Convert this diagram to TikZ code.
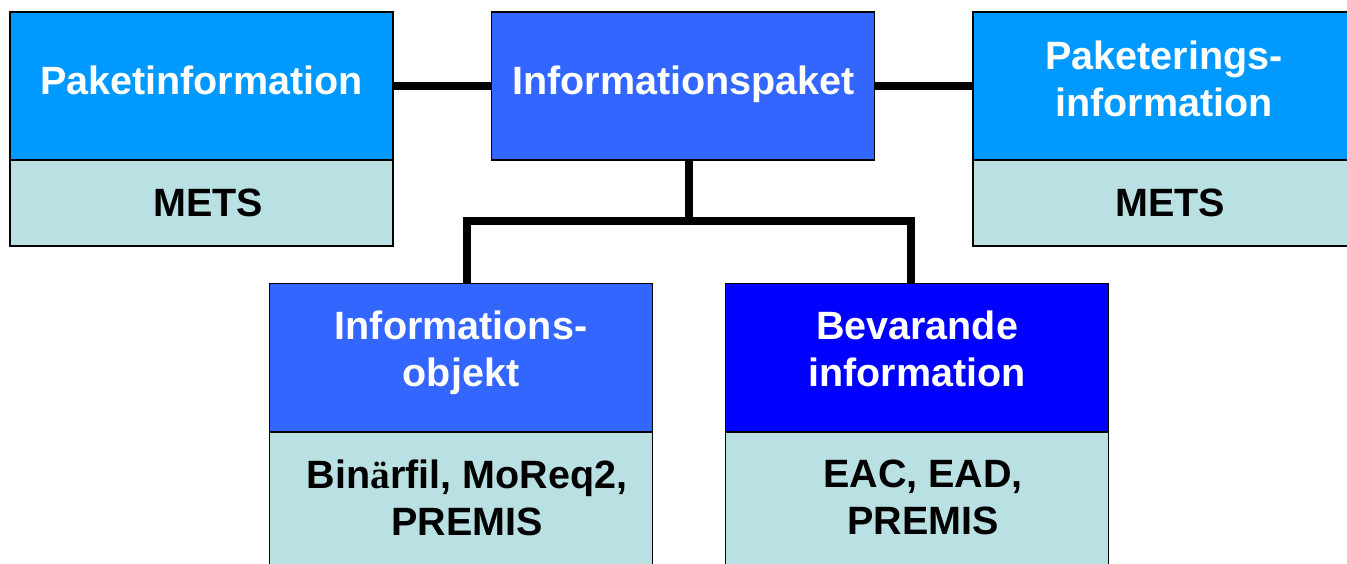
\documentclass[tikz,border=0pt]{standalone}
\usepackage{fontspec}
\setmainfont{Liberation Sans}
\newfontfamily\umlautfont{Liberation Serif}
\definecolor{skyblue}{RGB}{0,153,255}
\definecolor{midblue}{RGB}{51,102,255}
\definecolor{deepblue}{RGB}{0,0,255}
\definecolor{paleteal}{RGB}{185,224,227}
\begin{document}
\begin{tikzpicture}[x=1pt,y=-1pt,
  box/.style={draw=black, line width=1.5pt, minimum width=383pt, inner sep=0pt, outer sep=0pt},
  head/.style={box, minimum height=148pt},
  foot/.style={box, fill=paleteal},
  txt/.style={inner sep=0pt, align=center, text depth=0pt,
    font=\fontsize{39.5}{47}\selectfont\bfseries},
  wtxt/.style={txt, text=white},
  btxt/.style={txt, text=black},
  conn/.style={line width=7.5pt}]
\useasboundingbox (0,0) rectangle (1347,563);
\clip (0,0) rectangle (1347,563);

% top row
\node[head, fill=skyblue] (pi) at (201.5,86) {};
\node[foot, minimum height=86pt] (pif) at (201.5,203) {};
\node[head, fill=midblue] (ip) at (683,86) {};
\node[head, fill=skyblue] (pk) at (1164.5,86) {};
\node[foot, minimum height=86pt] (pkf) at (1164.5,203) {};

% bottom row
\node[head, fill=midblue] (io) at (461,357.5) {};
\node[foot, minimum height=140pt] (iof) at (461,502) {};
\node[head, fill=deepblue] (bi) at (917,357.5) {};
\node[foot, minimum height=140pt] (bif) at (917,502) {};

% labels
\node[wtxt] (piT) at (201.5,80) {Paketinformation};
\node[btxt] (pifT) at (208,203) {METS};
\node[wtxt] (ipT) at (683.5,80) {Informationspaket};
\node[wtxt] (pkT) at (1164,79) {Paketerings-\\information};
\node[btxt] (pkfT) at (1170,203) {METS};
\node[wtxt] (ioT) at (461,349) {Informations-\\objekt};
\node[btxt] (iofT) at (467,497.5) {Bin{\umlautfont ä}rfil, MoReq2,\\PREMIS};
\node[wtxt] (biT) at (917,349) {Bevarande\\information};
\node[btxt] (bifT) at (923,497.5) {EAC, EAD,\\PREMIS};

% connectors
\coordinate (hub) at (689,221);
\draw[conn] (pi.east) -- (ip.west);
\draw[conn] (ip.east) -- (pk.west);
\draw[conn] (hub |- ip.south) -- (hub);
\draw[conn] ([xshift=6pt]io.north) |- (hub) -| ([xshift=-6pt]bi.north);
\end{tikzpicture}
\end{document}
